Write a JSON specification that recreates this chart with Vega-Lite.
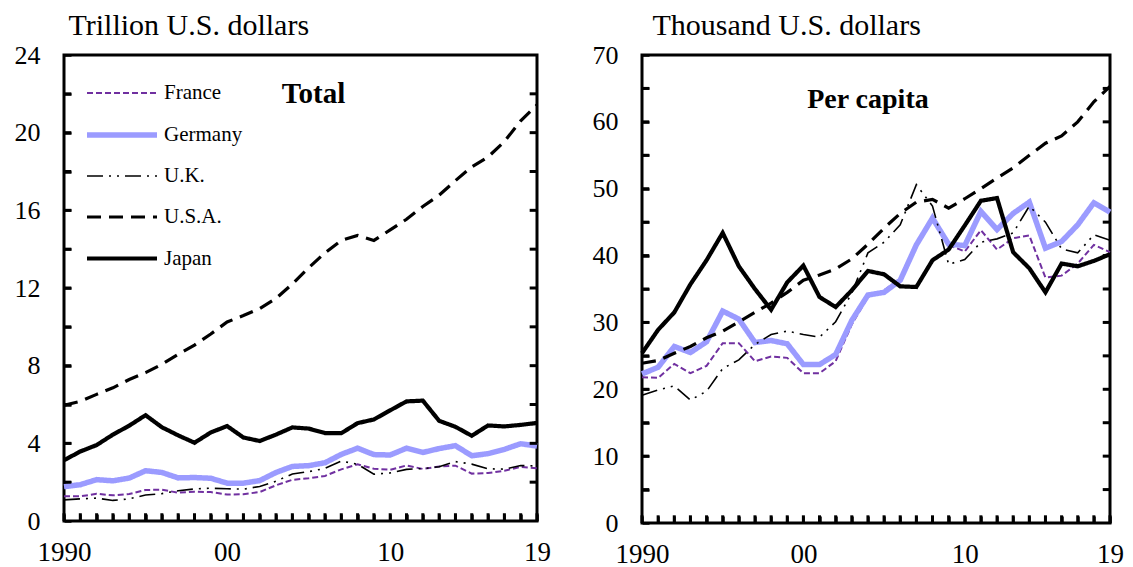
{
  "$schema": "https://vega.github.io/schema/vega-lite/v6.json",
  "padding": {"left": 12, "top": 8, "right": 10, "bottom": 5},
  "background": "white",
  "config": {
    "font": "Liberation Serif",
    "view": {"stroke": "black", "strokeWidth": 3},
    "axis": {
      "domain": false,
      "grid": false,
      "ticks": true,
      "zindex": 1,
      "tickColor": "black",
      "tickOpacity": 1,
      "tickWidth": 2.5,
      "tickSize": 7,
      "offset": -7,
      "labelFont": "Liberation Serif",
      "labelFontSize": 26,
      "labelColor": "black",
      "titleFont": "Liberation Serif",
      "titleFontSize": 30,
      "titleFontWeight": "normal",
      "titleColor": "black"
    }
  },
  "datasets": {
    "total": [
      {"country":"France","year":1990,"value":1.27},{"country":"France","year":1991,"value":1.27},{"country":"France","year":1992,"value":1.40},{"country":"France","year":1993,"value":1.32},{"country":"France","year":1994,"value":1.39},{"country":"France","year":1995,"value":1.60},{"country":"France","year":1996,"value":1.61},{"country":"France","year":1997,"value":1.46},{"country":"France","year":1998,"value":1.51},{"country":"France","year":1999,"value":1.49},{"country":"France","year":2000,"value":1.36},{"country":"France","year":2001,"value":1.38},{"country":"France","year":2002,"value":1.49},{"country":"France","year":2003,"value":1.84},{"country":"France","year":2004,"value":2.12},{"country":"France","year":2005,"value":2.20},{"country":"France","year":2006,"value":2.32},{"country":"France","year":2007,"value":2.66},{"country":"France","year":2008,"value":2.92},{"country":"France","year":2009,"value":2.69},{"country":"France","year":2010,"value":2.64},{"country":"France","year":2011,"value":2.86},{"country":"France","year":2012,"value":2.68},{"country":"France","year":2013,"value":2.81},{"country":"France","year":2014,"value":2.85},{"country":"France","year":2015,"value":2.44},{"country":"France","year":2016,"value":2.47},{"country":"France","year":2017,"value":2.59},{"country":"France","year":2018,"value":2.79},{"country":"France","year":2019,"value":2.72},
      {"country":"Germany","year":1990,"value":1.77},{"country":"Germany","year":1991,"value":1.87},{"country":"Germany","year":1992,"value":2.13},{"country":"Germany","year":1993,"value":2.07},{"country":"Germany","year":1994,"value":2.21},{"country":"Germany","year":1995,"value":2.59},{"country":"Germany","year":1996,"value":2.50},{"country":"Germany","year":1997,"value":2.22},{"country":"Germany","year":1998,"value":2.24},{"country":"Germany","year":1999,"value":2.20},{"country":"Germany","year":2000,"value":1.95},{"country":"Germany","year":2001,"value":1.95},{"country":"Germany","year":2002,"value":2.08},{"country":"Germany","year":2003,"value":2.50},{"country":"Germany","year":2004,"value":2.81},{"country":"Germany","year":2005,"value":2.85},{"country":"Germany","year":2006,"value":3.00},{"country":"Germany","year":2007,"value":3.43},{"country":"Germany","year":2008,"value":3.75},{"country":"Germany","year":2009,"value":3.42},{"country":"Germany","year":2010,"value":3.40},{"country":"Germany","year":2011,"value":3.75},{"country":"Germany","year":2012,"value":3.53},{"country":"Germany","year":2013,"value":3.73},{"country":"Germany","year":2014,"value":3.88},{"country":"Germany","year":2015,"value":3.36},{"country":"Germany","year":2016,"value":3.47},{"country":"Germany","year":2017,"value":3.69},{"country":"Germany","year":2018,"value":3.98},{"country":"Germany","year":2019,"value":3.86},
      {"country":"U.K.","year":1990,"value":1.09},{"country":"U.K.","year":1991,"value":1.14},{"country":"U.K.","year":1992,"value":1.18},{"country":"U.K.","year":1993,"value":1.06},{"country":"U.K.","year":1994,"value":1.14},{"country":"U.K.","year":1995,"value":1.34},{"country":"U.K.","year":1996,"value":1.41},{"country":"U.K.","year":1997,"value":1.56},{"country":"U.K.","year":1998,"value":1.65},{"country":"U.K.","year":1999,"value":1.69},{"country":"U.K.","year":2000,"value":1.66},{"country":"U.K.","year":2001,"value":1.64},{"country":"U.K.","year":2002,"value":1.78},{"country":"U.K.","year":2003,"value":2.05},{"country":"U.K.","year":2004,"value":2.42},{"country":"U.K.","year":2005,"value":2.54},{"country":"U.K.","year":2006,"value":2.71},{"country":"U.K.","year":2007,"value":3.09},{"country":"U.K.","year":2008,"value":2.92},{"country":"U.K.","year":2009,"value":2.41},{"country":"U.K.","year":2010,"value":2.48},{"country":"U.K.","year":2011,"value":2.66},{"country":"U.K.","year":2012,"value":2.70},{"country":"U.K.","year":2013,"value":2.79},{"country":"U.K.","year":2014,"value":3.06},{"country":"U.K.","year":2015,"value":2.93},{"country":"U.K.","year":2016,"value":2.69},{"country":"U.K.","year":2017,"value":2.67},{"country":"U.K.","year":2018,"value":2.86},{"country":"U.K.","year":2019,"value":2.83},
      {"country":"U.S.A.","year":1990,"value":5.96},{"country":"U.S.A.","year":1991,"value":6.16},{"country":"U.S.A.","year":1992,"value":6.52},{"country":"U.S.A.","year":1993,"value":6.86},{"country":"U.S.A.","year":1994,"value":7.29},{"country":"U.S.A.","year":1995,"value":7.64},{"country":"U.S.A.","year":1996,"value":8.07},{"country":"U.S.A.","year":1997,"value":8.58},{"country":"U.S.A.","year":1998,"value":9.06},{"country":"U.S.A.","year":1999,"value":9.63},{"country":"U.S.A.","year":2000,"value":10.25},{"country":"U.S.A.","year":2001,"value":10.58},{"country":"U.S.A.","year":2002,"value":10.94},{"country":"U.S.A.","year":2003,"value":11.46},{"country":"U.S.A.","year":2004,"value":12.21},{"country":"U.S.A.","year":2005,"value":13.04},{"country":"U.S.A.","year":2006,"value":13.81},{"country":"U.S.A.","year":2007,"value":14.45},{"country":"U.S.A.","year":2008,"value":14.71},{"country":"U.S.A.","year":2009,"value":14.45},{"country":"U.S.A.","year":2010,"value":14.99},{"country":"U.S.A.","year":2011,"value":15.54},{"country":"U.S.A.","year":2012,"value":16.20},{"country":"U.S.A.","year":2013,"value":16.78},{"country":"U.S.A.","year":2014,"value":17.53},{"country":"U.S.A.","year":2015,"value":18.24},{"country":"U.S.A.","year":2016,"value":18.75},{"country":"U.S.A.","year":2017,"value":19.54},{"country":"U.S.A.","year":2018,"value":20.61},{"country":"U.S.A.","year":2019,"value":21.43},
      {"country":"Japan","year":1990,"value":3.13},{"country":"Japan","year":1991,"value":3.58},{"country":"Japan","year":1992,"value":3.91},{"country":"Japan","year":1993,"value":4.45},{"country":"Japan","year":1994,"value":4.91},{"country":"Japan","year":1995,"value":5.45},{"country":"Japan","year":1996,"value":4.83},{"country":"Japan","year":1997,"value":4.41},{"country":"Japan","year":1998,"value":4.03},{"country":"Japan","year":1999,"value":4.56},{"country":"Japan","year":2000,"value":4.89},{"country":"Japan","year":2001,"value":4.30},{"country":"Japan","year":2002,"value":4.12},{"country":"Japan","year":2003,"value":4.45},{"country":"Japan","year":2004,"value":4.82},{"country":"Japan","year":2005,"value":4.76},{"country":"Japan","year":2006,"value":4.53},{"country":"Japan","year":2007,"value":4.52},{"country":"Japan","year":2008,"value":5.04},{"country":"Japan","year":2009,"value":5.23},{"country":"Japan","year":2010,"value":5.70},{"country":"Japan","year":2011,"value":6.16},{"country":"Japan","year":2012,"value":6.20},{"country":"Japan","year":2013,"value":5.16},{"country":"Japan","year":2014,"value":4.85},{"country":"Japan","year":2015,"value":4.39},{"country":"Japan","year":2016,"value":4.92},{"country":"Japan","year":2017,"value":4.87},{"country":"Japan","year":2018,"value":4.95},{"country":"Japan","year":2019,"value":5.05}
    ],
    "percap": [
      {"country":"France","year":1990,"value":21.8},{"country":"France","year":1991,"value":21.7},{"country":"France","year":1992,"value":23.8},{"country":"France","year":1993,"value":22.4},{"country":"France","year":1994,"value":23.5},{"country":"France","year":1995,"value":26.9},{"country":"France","year":1996,"value":26.9},{"country":"France","year":1997,"value":24.2},{"country":"France","year":1998,"value":24.9},{"country":"France","year":1999,"value":24.7},{"country":"France","year":2000,"value":22.4},{"country":"France","year":2001,"value":22.4},{"country":"France","year":2002,"value":24.2},{"country":"France","year":2003,"value":29.7},{"country":"France","year":2004,"value":33.8},{"country":"France","year":2005,"value":34.8},{"country":"France","year":2006,"value":36.5},{"country":"France","year":2007,"value":41.6},{"country":"France","year":2008,"value":45.4},{"country":"France","year":2009,"value":41.6},{"country":"France","year":2010,"value":40.6},{"country":"France","year":2011,"value":43.8},{"country":"France","year":2012,"value":40.9},{"country":"France","year":2013,"value":42.6},{"country":"France","year":2014,"value":43.0},{"country":"France","year":2015,"value":36.7},{"country":"France","year":2016,"value":37.0},{"country":"France","year":2017,"value":38.8},{"country":"France","year":2018,"value":41.6},{"country":"France","year":2019,"value":40.5},
      {"country":"Germany","year":1990,"value":22.3},{"country":"Germany","year":1991,"value":23.3},{"country":"Germany","year":1992,"value":26.4},{"country":"Germany","year":1993,"value":25.5},{"country":"Germany","year":1994,"value":27.1},{"country":"Germany","year":1995,"value":31.7},{"country":"Germany","year":1996,"value":30.5},{"country":"Germany","year":1997,"value":27.0},{"country":"Germany","year":1998,"value":27.3},{"country":"Germany","year":1999,"value":26.8},{"country":"Germany","year":2000,"value":23.7},{"country":"Germany","year":2001,"value":23.7},{"country":"Germany","year":2002,"value":25.2},{"country":"Germany","year":2003,"value":30.3},{"country":"Germany","year":2004,"value":34.1},{"country":"Germany","year":2005,"value":34.5},{"country":"Germany","year":2006,"value":36.3},{"country":"Germany","year":2007,"value":41.6},{"country":"Germany","year":2008,"value":45.6},{"country":"Germany","year":2009,"value":41.7},{"country":"Germany","year":2010,"value":41.5},{"country":"Germany","year":2011,"value":46.6},{"country":"Germany","year":2012,"value":43.9},{"country":"Germany","year":2013,"value":46.3},{"country":"Germany","year":2014,"value":48.0},{"country":"Germany","year":2015,"value":41.1},{"country":"Germany","year":2016,"value":42.1},{"country":"Germany","year":2017,"value":44.6},{"country":"Germany","year":2018,"value":47.9},{"country":"Germany","year":2019,"value":46.5},
      {"country":"U.K.","year":1990,"value":19.1},{"country":"U.K.","year":1991,"value":19.9},{"country":"U.K.","year":1992,"value":20.5},{"country":"U.K.","year":1993,"value":18.4},{"country":"U.K.","year":1994,"value":19.7},{"country":"U.K.","year":1995,"value":23.1},{"country":"U.K.","year":1996,"value":24.4},{"country":"U.K.","year":1997,"value":26.7},{"country":"U.K.","year":1998,"value":28.2},{"country":"U.K.","year":1999,"value":28.7},{"country":"U.K.","year":2000,"value":28.2},{"country":"U.K.","year":2001,"value":27.8},{"country":"U.K.","year":2002,"value":30.1},{"country":"U.K.","year":2003,"value":34.4},{"country":"U.K.","year":2004,"value":40.4},{"country":"U.K.","year":2005,"value":42.0},{"country":"U.K.","year":2006,"value":44.6},{"country":"U.K.","year":2007,"value":50.6},{"country":"U.K.","year":2008,"value":47.4},{"country":"U.K.","year":2009,"value":38.7},{"country":"U.K.","year":2010,"value":39.4},{"country":"U.K.","year":2011,"value":42.0},{"country":"U.K.","year":2012,"value":42.5},{"country":"U.K.","year":2013,"value":43.4},{"country":"U.K.","year":2014,"value":47.4},{"country":"U.K.","year":2015,"value":45.0},{"country":"U.K.","year":2016,"value":41.0},{"country":"U.K.","year":2017,"value":40.4},{"country":"U.K.","year":2018,"value":43.1},{"country":"U.K.","year":2019,"value":42.3},
      {"country":"U.S.A.","year":1990,"value":23.9},{"country":"U.S.A.","year":1991,"value":24.3},{"country":"U.S.A.","year":1992,"value":25.4},{"country":"U.S.A.","year":1993,"value":26.4},{"country":"U.S.A.","year":1994,"value":27.7},{"country":"U.S.A.","year":1995,"value":28.7},{"country":"U.S.A.","year":1996,"value":30.1},{"country":"U.S.A.","year":1997,"value":31.5},{"country":"U.S.A.","year":1998,"value":32.9},{"country":"U.S.A.","year":1999,"value":34.5},{"country":"U.S.A.","year":2000,"value":36.3},{"country":"U.S.A.","year":2001,"value":37.1},{"country":"U.S.A.","year":2002,"value":38.0},{"country":"U.S.A.","year":2003,"value":39.5},{"country":"U.S.A.","year":2004,"value":41.7},{"country":"U.S.A.","year":2005,"value":44.1},{"country":"U.S.A.","year":2006,"value":46.3},{"country":"U.S.A.","year":2007,"value":48.0},{"country":"U.S.A.","year":2008,"value":48.4},{"country":"U.S.A.","year":2009,"value":47.1},{"country":"U.S.A.","year":2010,"value":48.5},{"country":"U.S.A.","year":2011,"value":50.0},{"country":"U.S.A.","year":2012,"value":51.6},{"country":"U.S.A.","year":2013,"value":53.1},{"country":"U.S.A.","year":2014,"value":55.0},{"country":"U.S.A.","year":2015,"value":56.8},{"country":"U.S.A.","year":2016,"value":57.9},{"country":"U.S.A.","year":2017,"value":60.0},{"country":"U.S.A.","year":2018,"value":63.0},{"country":"U.S.A.","year":2019,"value":65.3},
      {"country":"Japan","year":1990,"value":25.4},{"country":"Japan","year":1991,"value":28.9},{"country":"Japan","year":1992,"value":31.5},{"country":"Japan","year":1993,"value":35.7},{"country":"Japan","year":1994,"value":39.3},{"country":"Japan","year":1995,"value":43.4},{"country":"Japan","year":1996,"value":38.4},{"country":"Japan","year":1997,"value":35.0},{"country":"Japan","year":1998,"value":31.9},{"country":"Japan","year":1999,"value":36.0},{"country":"Japan","year":2000,"value":38.5},{"country":"Japan","year":2001,"value":33.8},{"country":"Japan","year":2002,"value":32.3},{"country":"Japan","year":2003,"value":34.8},{"country":"Japan","year":2004,"value":37.7},{"country":"Japan","year":2005,"value":37.2},{"country":"Japan","year":2006,"value":35.4},{"country":"Japan","year":2007,"value":35.3},{"country":"Japan","year":2008,"value":39.3},{"country":"Japan","year":2009,"value":40.9},{"country":"Japan","year":2010,"value":44.5},{"country":"Japan","year":2011,"value":48.2},{"country":"Japan","year":2012,"value":48.6},{"country":"Japan","year":2013,"value":40.5},{"country":"Japan","year":2014,"value":38.1},{"country":"Japan","year":2015,"value":34.5},{"country":"Japan","year":2016,"value":38.8},{"country":"Japan","year":2017,"value":38.4},{"country":"Japan","year":2018,"value":39.2},{"country":"Japan","year":2019,"value":40.2}
    ]
  },
  "hconcat": [
    {
      "width": 473,
      "height": 466,
      "data": {"name": "total"},
      "layer": [
        {
          "mark": {"type": "line", "strokeCap": "butt", "strokeJoin": "miter"},
          "encoding": {
            "x": {"field": "year", "type": "quantitative",
                  "scale": {"domain": [1990, 2019], "nice": false, "zero": false},
                  "axis": {"title": null,
                           "values": [1990,1991,1992,1993,1994,1995,1996,1997,1998,1999,2000,2001,2002,2003,2004,2005,2006,2007,2008,2009,2010,2011,2012,2013,2014,2015,2016,2017,2018,2019],
                           "labelExpr": "datum.value == 1990 ? '1990' : datum.value == 2000 ? '00' : datum.value == 2010 ? '10' : datum.value == 2019 ? '19' : ''",
                           "labelFlush": false, "labelOverlap": false, "labelPadding": 18, "labelFontSize": 27}},
            "y": {"field": "value", "type": "quantitative",
                  "scale": {"domain": [0, 24], "nice": false},
                  "axis": {"title": "Trillion U.S. dollars", "titleAngle": 0, "titleAlign": "left", "titleBaseline": "alphabetic", "titleX": -3, "titleY": -21,
                           "values": [0,2,4,6,8,10,12,14,16,18,20,22,24],
                           "labelExpr": "datum.value % 4 == 0 ? datum.label : ''",
                           "labelOverlap": false, "labelPadding": 24, "labelBaseline": "middle"}},
            "color": {"field": "country", "type": "nominal",
                      "scale": {"domain": ["France","Germany","U.K.","U.S.A.","Japan"], "range": ["#7030A0","#9B9BFF","#000000","#000000","#000000"]},
                      "legend": {"title": null, "orient": "none", "legendX": 45, "legendY": 27, "symbolType": "M-3.5,0H3.5", "symbolSize": 400, "labelFont": "Liberation Serif", "labelFontSize": 21, "labelColor": "black", "labelOffset": 29, "rowPadding": 19, "padding": 0}},
            "strokeDash": {"field": "country", "type": "nominal",
                      "scale": {"domain": ["France","Germany","U.K.","U.S.A.","Japan"], "range": [[6,3],[1,0],[16,6,2,6,2,6],[14,8],[1,0]]},
                      "legend": {"title": null, "orient": "none", "legendX": 45, "legendY": 27, "symbolType": "M-3.5,0H3.5", "symbolSize": 400, "labelFont": "Liberation Serif", "labelFontSize": 21, "labelColor": "black", "labelOffset": 29, "rowPadding": 19, "padding": 0}},
            "strokeWidth": {"field": "country", "type": "nominal",
                      "scale": {"type": "ordinal", "domain": ["France","Germany","U.K.","U.S.A.","Japan"], "range": [2, 5.5, 1.6, 3.2, 4.2]},
                      "legend": {"title": null, "orient": "none", "legendX": 45, "legendY": 27, "symbolType": "M-3.5,0H3.5", "symbolSize": 400, "labelFont": "Liberation Serif", "labelFontSize": 21, "labelColor": "black", "labelOffset": 29, "rowPadding": 19, "padding": 0}}
          }
        },
        {
          "data": {"values": [{"year":1990},{"year":1991},{"year":1992},{"year":1993},{"year":1994},{"year":1995},{"year":1996},{"year":1997},{"year":1998},{"year":1999},{"year":2000},{"year":2001},{"year":2002},{"year":2003},{"year":2004},{"year":2005},{"year":2006},{"year":2007},{"year":2008},{"year":2009},{"year":2010},{"year":2011},{"year":2012},{"year":2013},{"year":2014},{"year":2015},{"year":2016},{"year":2017},{"year":2018},{"year":2019}]},
          "mark": {"type": "rule", "color": "black", "strokeWidth": 3, "strokeCap": "butt"},
          "encoding": {
            "x": {"field": "year", "type": "quantitative", "axis": null},
            "y": {"datum": 0, "type": "quantitative", "axis": null},
            "y2": {"datum": 0.4}
          }
        },
        {
          "data": {"values": [{"value":2},{"value":4},{"value":6},{"value":8},{"value":10},{"value":12},{"value":14},{"value":16},{"value":18},{"value":20},{"value":22}]},
          "mark": {"type": "rule", "color": "black", "strokeWidth": 3, "strokeCap": "butt"},
          "encoding": {
            "y": {"field": "value", "type": "quantitative", "axis": null},
            "x": {"datum": 1990, "type": "quantitative", "axis": null},
            "x2": {"datum": 1990.45}
          }
        },
        {
          "data": {"values": [{"value":2},{"value":4},{"value":6},{"value":8},{"value":10},{"value":12},{"value":14},{"value":16},{"value":18},{"value":20},{"value":22}]},
          "mark": {"type": "rule", "color": "black", "strokeWidth": 3, "strokeCap": "butt"},
          "encoding": {
            "y": {"field": "value", "type": "quantitative", "axis": null},
            "x": {"datum": 2018.55, "type": "quantitative", "axis": null},
            "x2": {"datum": 2019}
          }
        },
        {
          "data": {"values": [{"label": "Total"}]},
          "mark": {"type": "text", "font": "Liberation Serif", "fontSize": 29, "fontWeight": "bold", "color": "black", "align": "center", "baseline": "middle"},
          "encoding": {
            "x": {"datum": 2005.3, "type": "quantitative", "axis": null},
            "y": {"datum": 22.0, "type": "quantitative", "axis": null},
            "text": {"field": "label"}
          }
        }
      ],
      "resolve": {"axis": {"x": "independent", "y": "independent"}}
    },
    {
      "width": 468,
      "height": 468,
      "data": {"name": "percap"},
      "layer": [
        {
          "mark": {"type": "line", "strokeCap": "butt", "strokeJoin": "miter"},
          "encoding": {
            "x": {"field": "year", "type": "quantitative",
                  "scale": {"domain": [1990, 2019], "nice": false, "zero": false},
                  "axis": {"title": null,
                           "values": [1990,1991,1992,1993,1994,1995,1996,1997,1998,1999,2000,2001,2002,2003,2004,2005,2006,2007,2008,2009,2010,2011,2012,2013,2014,2015,2016,2017,2018,2019],
                           "labelExpr": "datum.value == 1990 ? '1990' : datum.value == 2000 ? '00' : datum.value == 2010 ? '10' : datum.value == 2019 ? '19' : ''",
                           "labelFlush": false, "labelOverlap": false, "labelPadding": 18, "labelFontSize": 27}},
            "y": {"field": "value", "type": "quantitative",
                  "scale": {"domain": [0, 70], "nice": false},
                  "axis": {"title": "Thousand U.S. dollars", "titleAngle": 0, "titleAlign": "left", "titleBaseline": "alphabetic", "titleX": 3, "titleY": -21,
                           "values": [0,5,10,15,20,25,30,35,40,45,50,55,60,65,70],
                           "labelExpr": "datum.value % 10 == 0 ? datum.label : ''",
                           "labelOverlap": false, "labelPadding": 24, "labelBaseline": "middle"}},
            "color": {"field": "country", "type": "nominal",
                      "scale": {"domain": ["France","Germany","U.K.","U.S.A.","Japan"], "range": ["#7030A0","#9B9BFF","#000000","#000000","#000000"]},
                      "legend": null},
            "strokeDash": {"field": "country", "type": "nominal",
                      "scale": {"domain": ["France","Germany","U.K.","U.S.A.","Japan"], "range": [[6,3],[1,0],[16,6,2,6,2,6],[14,8],[1,0]]},
                      "legend": null},
            "strokeWidth": {"field": "country", "type": "nominal",
                      "scale": {"type": "ordinal", "domain": ["France","Germany","U.K.","U.S.A.","Japan"], "range": [2, 5.5, 1.6, 3.2, 4.2]},
                      "legend": null}
          }
        },
        {
          "data": {"values": [{"year":1990},{"year":1991},{"year":1992},{"year":1993},{"year":1994},{"year":1995},{"year":1996},{"year":1997},{"year":1998},{"year":1999},{"year":2000},{"year":2001},{"year":2002},{"year":2003},{"year":2004},{"year":2005},{"year":2006},{"year":2007},{"year":2008},{"year":2009},{"year":2010},{"year":2011},{"year":2012},{"year":2013},{"year":2014},{"year":2015},{"year":2016},{"year":2017},{"year":2018},{"year":2019}]},
          "mark": {"type": "rule", "color": "black", "strokeWidth": 3, "strokeCap": "butt"},
          "encoding": {
            "x": {"field": "year", "type": "quantitative", "axis": null},
            "y": {"datum": 0, "type": "quantitative", "axis": null},
            "y2": {"datum": 1.15}
          }
        },
        {
          "data": {"values": [{"value":5},{"value":10},{"value":15},{"value":20},{"value":25},{"value":30},{"value":35},{"value":40},{"value":45},{"value":50},{"value":55},{"value":60},{"value":65}]},
          "mark": {"type": "rule", "color": "black", "strokeWidth": 3, "strokeCap": "butt"},
          "encoding": {
            "y": {"field": "value", "type": "quantitative", "axis": null},
            "x": {"datum": 1990, "type": "quantitative", "axis": null},
            "x2": {"datum": 1990.45}
          }
        },
        {
          "data": {"values": [{"value":5},{"value":10},{"value":15},{"value":20},{"value":25},{"value":30},{"value":35},{"value":40},{"value":45},{"value":50},{"value":55},{"value":60},{"value":65}]},
          "mark": {"type": "rule", "color": "black", "strokeWidth": 3, "strokeCap": "butt"},
          "encoding": {
            "y": {"field": "value", "type": "quantitative", "axis": null},
            "x": {"datum": 2018.55, "type": "quantitative", "axis": null},
            "x2": {"datum": 2019}
          }
        },
        {
          "data": {"values": [{"label": "Per capita"}]},
          "mark": {"type": "text", "font": "Liberation Serif", "fontSize": 28, "fontWeight": "bold", "color": "black", "align": "center", "baseline": "middle"},
          "encoding": {
            "x": {"datum": 2004.0, "type": "quantitative", "axis": null},
            "y": {"datum": 63.3, "type": "quantitative", "axis": null},
            "text": {"field": "label"}
          }
        }
      ],
      "resolve": {"axis": {"x": "independent", "y": "independent"}}
    }
  ],
  "spacing": 38,
  "resolve": {"scale": {"color": "independent", "strokeDash": "independent", "strokeWidth": "independent"}, "legend": {"color": "independent", "strokeDash": "independent", "strokeWidth": "independent"}}
}
